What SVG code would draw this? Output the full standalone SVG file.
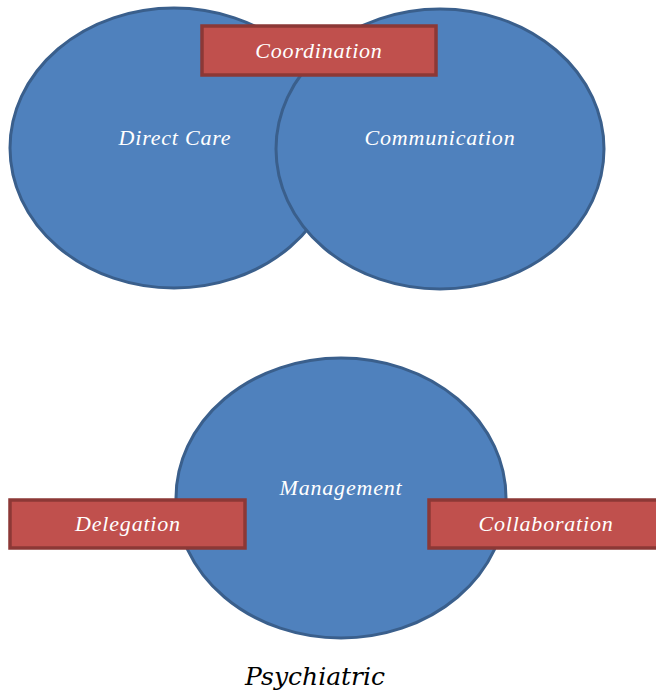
<svg xmlns="http://www.w3.org/2000/svg" width="656" height="691" viewBox="0 0 656 691">
  <style>
    .circle { fill: #4f81bd; stroke: #3a5f8c; stroke-width: 3; }
    .tag { fill: #c0504d; stroke: #8c3836; stroke-width: 3.5; }
    .lbl { font-family: "Liberation Serif", "DejaVu Serif", serif; font-style: italic; font-size: 22px; letter-spacing: 0.8px; fill: #ffffff; text-anchor: middle; }
    .caption { font-family: "DejaVu Serif", "Liberation Serif", serif; font-style: italic; font-size: 25px; fill: #000000; text-anchor: middle; }
  </style>
  <rect width="656" height="691" fill="#ffffff"/>

  <g id="direct-care">
    <ellipse class="circle" cx="174" cy="148" rx="164" ry="140"/>
    <text class="lbl" x="175" y="145">Direct Care</text>
  </g>

  <g id="communication">
    <ellipse class="circle" cx="440" cy="149" rx="164" ry="140"/>
    <text class="lbl" x="440" y="145">Communication</text>
  </g>

  <g id="coordination">
    <rect class="tag" x="202" y="26" width="234" height="49"/>
    <text class="lbl" x="319" y="58">Coordination</text>
  </g>

  <g id="management">
    <ellipse class="circle" cx="341" cy="498" rx="165" ry="140"/>
    <text class="lbl" x="341" y="495">Management</text>
  </g>

  <g id="delegation">
    <rect class="tag" x="10" y="500" width="235" height="48"/>
    <text class="lbl" x="128" y="531">Delegation</text>
  </g>

  <g id="collaboration">
    <rect class="tag" x="429" y="500" width="235" height="48"/>
    <text class="lbl" x="546" y="531">Collaboration</text>
  </g>

  <g id="connectors"></g>

  <text class="caption" x="315" y="685">Psychiatric</text>
</svg>
